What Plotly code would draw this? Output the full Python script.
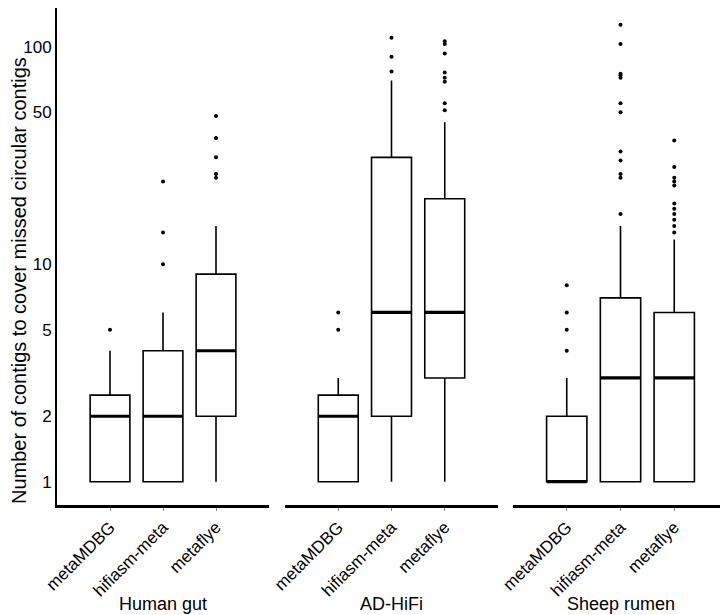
import plotly.graph_objects as go

# ---------------- data ----------------
facets = ["Human gut", "AD-HiFi", "Sheep rumen"]
tools = ["metaMDBG", "hifiasm-meta", "metaflye"]

# per facet: lists ordered like `tools`
human_q1 = [1, 1, 2]
human_median = [2, 2, 4]
human_q3 = [2.5, 4, 9]
human_lower = [1, 1, 1]
human_upper = [4, 6, 15]
human_outliers = [
    [5],
    [10, 14, 24],
    [25, 26, 31, 38, 48],
]

adhifi_q1 = [1, 2, 3]
adhifi_median = [2, 6, 6]
adhifi_q3 = [2.5, 31, 20]
adhifi_lower = [1, 1, 1]
adhifi_upper = [3, 70, 45]
adhifi_outliers = [
    [5, 6],
    [77, 90, 110],
    [51, 55, 69, 72, 76, 93, 103, 106],
]

sheep_q1 = [1, 1, 1]
sheep_median = [1, 3, 3]
sheep_q3 = [2, 7, 6]
sheep_lower = [1, 1, 1]
sheep_upper = [3, 15, 13]
sheep_outliers = [
    [4, 5, 6, 8],
    [17, 25, 26, 30, 33, 50, 55, 72, 74, 75, 103, 126],
    [14, 15, 16, 17, 18, 19, 23, 24, 25, 28, 37],
]

y_tickvals = [1, 2, 5, 10, 50, 100]
y_ticktext = ["1", "2", "5", "10", "50", "100"]
y_title = "Number of contigs to cover missed circular contigs"

# ---------------- figure ----------------
FONT = "Liberation Sans, Arial, sans-serif"
panel_data = [
    (human_q1, human_median, human_q3, human_lower, human_upper, human_outliers),
    (adhifi_q1, adhifi_median, adhifi_q3, adhifi_lower, adhifi_upper, adhifi_outliers),
    (sheep_q1, sheep_median, sheep_q3, sheep_lower, sheep_upper, sheep_outliers),
]

BOX_W = 0.75          # box width in category units
BOX_PX = 40           # approx pixel width of the box (for median marker)

fig = go.Figure()
for i, (q1, med, q3, lo, hi, outs) in enumerate(panel_data):
    xa = "x" if i == 0 else f"x{i+1}"
    fig.add_trace(go.Box(
        x=tools, q1=q1, median=med, q3=q3, lowerfence=lo, upperfence=hi,
        xaxis=xa, yaxis="y",
        width=BOX_W, whiskerwidth=0,
        fillcolor="white",
        line=dict(color="black", width=1.6),
        boxpoints=False, showlegend=False, hoverinfo="skip",
    ))
    # thicker median line, as in ggplot
    fig.add_trace(go.Scatter(
        x=tools, y=med, xaxis=xa, yaxis="y", mode="markers",
        marker=dict(symbol="line-ew", size=BOX_PX / 1.4,
                    line=dict(color="black", width=3.2)),
        showlegend=False, hoverinfo="skip",
    ))
    # outliers
    ox, oy = [], []
    for t, vals in zip(tools, outs):
        ox += [t] * len(vals)
        oy += vals
    fig.add_trace(go.Scatter(
        x=ox, y=oy, xaxis=xa, yaxis="y", mode="markers",
        marker=dict(color="black", size=4),
        showlegend=False, hoverinfo="skip",
    ))

# the page body has an 8px margin, so figure coords = page coords - 8
OFF = 8
W, H = 728 - OFF, 615 - OFF
L, R, T, B = 57 - OFF, 0, 0, 110
pw = W - L - R
ph = H - T - B
px = lambda p: (p - OFF - L) / pw
py = lambda p: ((H - B) - (p - OFF)) / ph
domains = [[px(57), px(269)], [px(285), px(498)], [px(513), px(728)]]

# log-scale calibration from the reference: 1 -> y=481.7, 217.5 px per decade
y_bottom_page, y_top_page = 505, T + OFF
y_range = [(481.7 - y_bottom_page) / 217.5, (481.7 - y_top_page) / 217.5]

xaxis_common = dict(
    type="category", categoryorder="array", categoryarray=tools,
    range=[-1, 3], showline=True, linecolor="black", linewidth=2.5,
    ticks="outside", ticklen=3, tickcolor="#888888", tickwidth=1,
    tickangle=-45, showgrid=False, zeroline=False,
    tickfont=dict(family=FONT, size=17, color="black"),
    anchor="y", fixedrange=True,
)
layout = dict(
    width=W, height=H,
    margin=dict(l=L, r=R, t=T, b=B, autoexpand=False),
    paper_bgcolor="white", plot_bgcolor="white",
    font=dict(family=FONT, color="black"),
    yaxis=dict(
        type="log", range=y_range,
        tickvals=y_tickvals, ticktext=y_ticktext,
        showline=True, linecolor="black", linewidth=2,
        ticks="", showgrid=False, zeroline=False,
        tickfont=dict(family=FONT, size=17, color="black"),
        anchor="x", automargin=False,
    ),
    showlegend=False,
)
for i in range(3):
    key = "xaxis" if i == 0 else f"xaxis{i+1}"
    layout[key] = dict(xaxis_common, domain=domains[i])

annotations = [dict(
    text=y_title, textangle=-90, xref="paper", x=px(19), yref="paper", y=py(281),
    xanchor="center", yanchor="middle", showarrow=False,
    font=dict(family=FONT, size=20, color="black"),
)]
for i, name in enumerate(facets):
    xr = "x domain" if i == 0 else f"x{i+1} domain"
    annotations.append(dict(
        text=name, xref=xr, x=0.5, yref="paper", y=py(604),
        xanchor="center", yanchor="middle", showarrow=False,
        font=dict(family=FONT, size=18, color="black"),
    ))
layout["annotations"] = annotations

fig.update_layout(**layout)
fig.write_html("out.html")
